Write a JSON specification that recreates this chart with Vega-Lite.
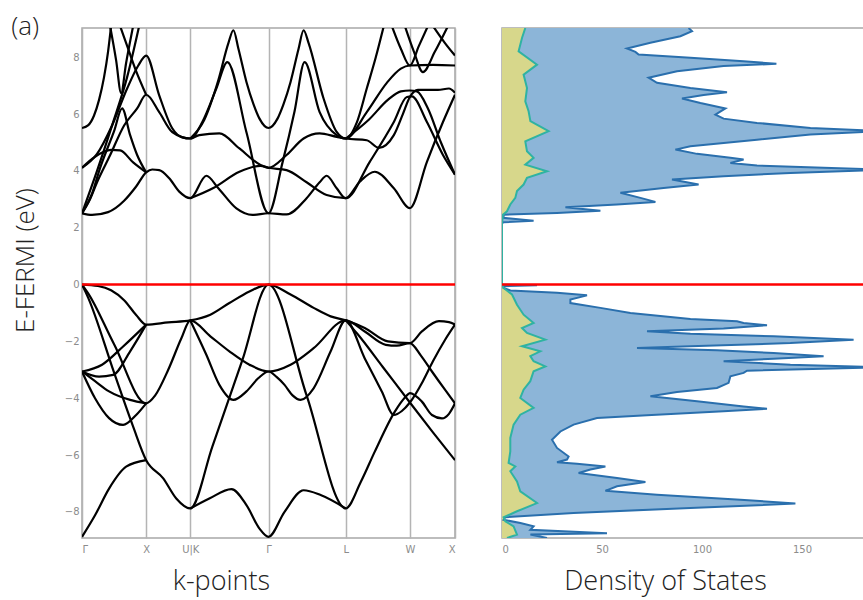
{
  "$schema": "https://vega.github.io/schema/vega-lite/v6.json",
  "padding": {"left": 11, "top": 14, "right": 0, "bottom": 4},
  "title": {"text": "(a)", "anchor": "start", "frame": "bounds", "font": "Open Sans", "fontSize": 26, "fontWeight": 300, "color": "#222222", "baseline": "middle", "offset": -26},
  "bounds": "flush",
  "spacing": 47,
  "config": {
    "view": {"stroke": "#a8a8a8", "strokeWidth": 1.5},
    "axis": {"domain": false, "ticks": false, "labelColor": "#8c8c8c", "labelFont": "DejaVu Sans", "labelFontSize": 10, "titleFont": "Open Sans", "titleFontWeight": 300, "titleColor": "#222222"}
  },
  "datasets": {
    "bands": [
      {"b":"v1","k":0,"E":0},{"b":"v1","k":16,"E":-0.05},{"b":"v1","k":29,"E":-0.2},{"b":"v1","k":42,"E":-0.55},{"b":"v1","k":54,"E":-1.07},{"b":"v1","k":64,"E":-1.41},{"b":"v1","k":86,"E":-1.33},{"b":"v1","k":108,"E":-1.26},{"b":"v1","k":128,"E":-1.06},{"b":"v1","k":147,"E":-0.65},{"b":"v1","k":167,"E":-0.24},{"b":"v1","k":186,"E":0},{"b":"v1","k":208,"E":-0.35},{"b":"v1","k":231,"E":-0.82},{"b":"v1","k":248,"E":-1.12},{"b":"v1","k":263,"E":-1.26},{"b":"v1","k":282,"E":-1.53},{"b":"v1","k":305,"E":-2.0},{"b":"v1","k":327,"E":-2.06},{"b":"v1","k":339,"E":-1.65},{"b":"v1","k":356,"E":-1.29},{"b":"v1","k":366,"E":-1.32},{"b":"v1","k":372,"E":-1.41},
      {"b":"v2","k":0,"E":0},{"b":"v2","k":6,"E":-0.3},{"b":"v2","k":32,"E":-2.1},{"b":"v2","k":64,"E":-4.18},{"b":"v2","k":73,"E":-3.9},{"b":"v2","k":86,"E":-3.0},{"b":"v2","k":99,"E":-1.9},{"b":"v2","k":108,"E":-1.26},{"b":"v2","k":128,"E":-1.82},{"b":"v2","k":147,"E":-2.35},{"b":"v2","k":167,"E":-2.82},{"b":"v2","k":186,"E":-3.06},{"b":"v2","k":208,"E":-2.82},{"b":"v2","k":231,"E":-2.24},{"b":"v2","k":263,"E":-1.26},{"b":"v2","k":282,"E":-1.65},{"b":"v2","k":303,"E":-2.12},{"b":"v2","k":314,"E":-2.15},{"b":"v2","k":327,"E":-2.06},{"b":"v2","k":338,"E":-2.5},{"b":"v2","k":349,"E":-3.06},{"b":"v2","k":362,"E":-3.7},{"b":"v2","k":372,"E":-4.18},
      {"b":"v3","k":0,"E":0},{"b":"v3","k":6,"E":-0.45},{"b":"v3","k":32,"E":-3.1},{"b":"v3","k":51,"E":-5.0},{"b":"v3","k":64,"E":-6.18},{"b":"v3","k":81,"E":-6.82},{"b":"v3","k":94,"E":-7.53},{"b":"v3","k":108,"E":-7.88},{"b":"v3","k":130,"E":-5.7},{"b":"v3","k":160,"E":-2.65},{"b":"v3","k":186,"E":0},{"b":"v3","k":224,"E":-3.9},{"b":"v3","k":263,"E":-7.88},{"b":"v3","k":278,"E":-6.95},{"b":"v3","k":292,"E":-5.88},{"b":"v3","k":312,"E":-4.47},{"b":"v3","k":323,"E":-3.94},{"b":"v3","k":327,"E":-3.82},{"b":"v3","k":339,"E":-4.12},{"b":"v3","k":349,"E":-4.59},{"b":"v3","k":359,"E":-4.71},{"b":"v3","k":366,"E":-4.55},{"b":"v3","k":372,"E":-4.18},
      {"b":"v4","k":0,"E":-3.06},{"b":"v4","k":20,"E":-2.82},{"b":"v4","k":41,"E":-2.18},{"b":"v4","k":64,"E":-1.41},
      {"b":"v5","k":0,"E":-3.06},{"b":"v5","k":17,"E":-3.24},{"b":"v5","k":31,"E":-3.18},{"b":"v5","k":48,"E":-2.35},{"b":"v5","k":64,"E":-1.41},
      {"b":"v6","k":0,"E":-3.06},{"b":"v6","k":13,"E":-3.4},{"b":"v6","k":27,"E":-3.76},{"b":"v6","k":48,"E":-4.06},{"b":"v6","k":64,"E":-4.18},
      {"b":"v7","k":0,"E":-3.06},{"b":"v7","k":13,"E":-4.0},{"b":"v7","k":27,"E":-4.7},{"b":"v7","k":41,"E":-4.94},{"b":"v7","k":54,"E":-4.59},{"b":"v7","k":64,"E":-4.18},
      {"b":"v8","k":0,"E":-8.88},{"b":"v8","k":13,"E":-8.12},{"b":"v8","k":27,"E":-7.18},{"b":"v8","k":44,"E":-6.41},{"b":"v8","k":64,"E":-6.18},
      {"b":"v9","k":108,"E":-1.26},{"b":"v9","k":124,"E":-2.47},{"b":"v9","k":137,"E":-3.53},{"b":"v9","k":151,"E":-4.06},{"b":"v9","k":164,"E":-3.76},{"b":"v9","k":176,"E":-3.29},{"b":"v9","k":186,"E":-3.06},{"b":"v9","k":194,"E":-3.25},{"b":"v9","k":202,"E":-3.53},{"b":"v9","k":210,"E":-3.9},{"b":"v9","k":218,"E":-4.06},{"b":"v9","k":231,"E":-3.65},{"b":"v9","k":248,"E":-2.35},{"b":"v9","k":263,"E":-1.26},{"b":"v9","k":282,"E":-2.6},{"b":"v9","k":299,"E":-3.76},{"b":"v9","k":311,"E":-4.59},{"b":"v9","k":319,"E":-4.45},{"b":"v9","k":327,"E":-4.15},{"b":"v9","k":340,"E":-3.4},{"b":"v9","k":350,"E":-2.7},{"b":"v9","k":362,"E":-1.95},{"b":"v9","k":372,"E":-1.41},
      {"b":"v10","k":108,"E":-7.88},{"b":"v10","k":127,"E":-7.53},{"b":"v10","k":149,"E":-7.2},{"b":"v10","k":164,"E":-7.76},{"b":"v10","k":177,"E":-8.59},{"b":"v10","k":186,"E":-8.88},{"b":"v10","k":202,"E":-8.0},{"b":"v10","k":221,"E":-7.24},{"b":"v10","k":238,"E":-7.41},{"b":"v10","k":263,"E":-7.88},
      {"b":"v11","k":263,"E":-1.26},{"b":"v11","k":275,"E":-1.75},{"b":"v11","k":300,"E":-2.9},{"b":"v11","k":327,"E":-4.15},{"b":"v11","k":350,"E":-5.2},{"b":"v11","k":372,"E":-6.18},
      {"b":"c1","k":0,"E":2.51},{"b":"c1","k":10,"E":2.45},{"b":"c1","k":26,"E":2.55},{"b":"c1","k":42,"E":2.95},{"b":"c1","k":54,"E":3.45},{"b":"c1","k":64,"E":3.95},{"b":"c1","k":70,"E":4.05},{"b":"c1","k":77,"E":4.03},{"b":"c1","k":87,"E":3.74},{"b":"c1","k":97,"E":3.27},{"b":"c1","k":108,"E":3.04},{"b":"c1","k":124,"E":3.83},{"b":"c1","k":136,"E":3.39},{"b":"c1","k":154,"E":2.68},{"b":"c1","k":170,"E":2.45},{"b":"c1","k":186,"E":2.51},{"b":"c1","k":204,"E":2.47},{"b":"c1","k":224,"E":3.04},{"b":"c1","k":237,"E":3.6},{"b":"c1","k":244,"E":3.83},{"b":"c1","k":254,"E":3.39},{"b":"c1","k":263,"E":3.04},{"b":"c1","k":277,"E":3.62},{"b":"c1","k":292,"E":3.97},{"b":"c1","k":311,"E":3.39},{"b":"c1","k":327,"E":2.69},{"b":"c1","k":344,"E":4.32},{"b":"c1","k":360,"E":5.72},{"b":"c1","k":372,"E":6.68},
      {"b":"c2","k":0,"E":2.51},{"b":"c2","k":10,"E":3.2},{"b":"c2","k":18,"E":4.1},{"b":"c2","k":32,"E":5.4},{"b":"c2","k":40,"E":6.2},{"b":"c2","k":48,"E":5.26},{"b":"c2","k":55,"E":4.56},{"b":"c2","k":64,"E":3.95},
      {"b":"c3","k":0,"E":2.51},{"b":"c3","k":8,"E":3.0},{"b":"c3","k":15,"E":3.6},{"b":"c3","k":28,"E":4.55},{"b":"c3","k":42,"E":5.6},{"b":"c3","k":55,"E":6.2},{"b":"c3","k":64,"E":6.68},{"b":"c3","k":77,"E":6.07},{"b":"c3","k":90,"E":5.37},{"b":"c3","k":108,"E":5.14},{"b":"c3","k":120,"E":5.72},{"b":"c3","k":134,"E":6.9},{"b":"c3","k":145,"E":7.83},{"b":"c3","k":164,"E":5.36},{"b":"c3","k":186,"E":2.51},{"b":"c3","k":200,"E":4.3},{"b":"c3","k":212,"E":6.1},{"b":"c3","k":222,"E":7.83},{"b":"c3","k":237,"E":6.07},{"b":"c3","k":254,"E":5.26},{"b":"c3","k":263,"E":5.14},{"b":"c3","k":284,"E":6.07},{"b":"c3","k":304,"E":7.1},{"b":"c3","k":318,"E":7.6},{"b":"c3","k":327,"E":7.71},{"b":"c3","k":350,"E":7.73},{"b":"c3","k":372,"E":7.71},
      {"b":"c4","k":0,"E":4.11},{"b":"c4","k":13,"E":4.5},{"b":"c4","k":29,"E":4.74},{"b":"c4","k":38,"E":4.72},{"b":"c4","k":51,"E":4.3},{"b":"c4","k":64,"E":3.95},
      {"b":"c5","k":0,"E":4.11},{"b":"c5","k":15,"E":4.6},{"b":"c5","k":30,"E":5.6},{"b":"c5","k":45,"E":6.9},{"b":"c5","k":56,"E":7.7},{"b":"c5","k":64,"E":8.06},{"b":"c5","k":77,"E":6.66},{"b":"c5","k":90,"E":5.5},{"b":"c5","k":100,"E":5.18},{"b":"c5","k":108,"E":5.14},{"b":"c5","k":117,"E":5.26},{"b":"c5","k":137,"E":5.32},{"b":"c5","k":157,"E":4.79},{"b":"c5","k":178,"E":4.21},{"b":"c5","k":186,"E":4.11},{"b":"c5","k":204,"E":4.56},{"b":"c5","k":221,"E":5.14},{"b":"c5","k":237,"E":5.32},{"b":"c5","k":254,"E":5.2},{"b":"c5","k":263,"E":5.14},{"b":"c5","k":284,"E":5.08},{"b":"c5","k":296,"E":4.81},{"b":"c5","k":311,"E":5.26},{"b":"c5","k":320,"E":6.0},{"b":"c5","k":327,"E":6.6},{"b":"c5","k":335,"E":6.85},{"b":"c5","k":355,"E":6.85},{"b":"c5","k":366,"E":6.9},{"b":"c5","k":372,"E":6.75},
      {"b":"c6","k":0,"E":2.51},{"b":"c6","k":15,"E":4.0},{"b":"c6","k":30,"E":5.6},{"b":"c6","k":45,"E":7.3},{"b":"c6","k":57,"E":9.1},
      {"b":"c7","k":0,"E":5.51},{"b":"c7","k":6,"E":5.6},{"b":"c7","k":12,"E":5.95},{"b":"c7","k":17,"E":6.5},{"b":"c7","k":22,"E":7.3},{"b":"c7","k":26,"E":8.2},{"b":"c7","k":29,"E":9.1},
      {"b":"c8","k":28,"E":9.1},{"b":"c8","k":34,"E":7.9},{"b":"c8","k":39,"E":6.74},{"b":"c8","k":44,"E":7.8},{"b":"c8","k":51,"E":9.1},
      {"b":"c9","k":38,"E":9.1},{"b":"c9","k":46,"E":8.3},{"b":"c9","k":53,"E":7.6},{"b":"c9","k":64,"E":6.68},
      {"b":"c10","k":108,"E":3.04},{"b":"c10","k":131,"E":3.4},{"b":"c10","k":157,"E":3.97},{"b":"c10","k":178,"E":4.18},{"b":"c10","k":186,"E":4.11},{"b":"c10","k":204,"E":4.03},{"b":"c10","k":224,"E":3.6},{"b":"c10","k":244,"E":3.15},{"b":"c10","k":263,"E":3.04},{"b":"c10","k":287,"E":4.32},{"b":"c10","k":311,"E":5.72},{"b":"c10","k":324,"E":6.6},{"b":"c10","k":329,"E":6.62},{"b":"c10","k":344,"E":5.72},{"b":"c10","k":360,"E":4.56},{"b":"c10","k":372,"E":3.87},
      {"b":"c11","k":108,"E":5.14},{"b":"c11","k":122,"E":5.8},{"b":"c11","k":136,"E":7.2},{"b":"c11","k":146,"E":8.5},{"b":"c11","k":151,"E":8.95},{"b":"c11","k":156,"E":8.3},{"b":"c11","k":164,"E":7.13},{"b":"c11","k":171,"E":6.35},{"b":"c11","k":177,"E":5.84},{"b":"c11","k":186,"E":5.51},{"b":"c11","k":195,"E":5.84},{"b":"c11","k":201,"E":6.35},{"b":"c11","k":208,"E":7.13},{"b":"c11","k":216,"E":8.3},{"b":"c11","k":221,"E":8.95},{"b":"c11","k":226,"E":8.5},{"b":"c11","k":241,"E":6.54},{"b":"c11","k":254,"E":5.37},{"b":"c11","k":263,"E":5.14},{"b":"c11","k":274,"E":5.7},{"b":"c11","k":284,"E":6.9},{"b":"c11","k":293,"E":8.0},{"b":"c11","k":301,"E":9.1},
      {"b":"c12","k":263,"E":5.14},{"b":"c12","k":286,"E":5.8},{"b":"c12","k":305,"E":6.5},{"b":"c12","k":318,"E":6.8},{"b":"c12","k":327,"E":6.83},{"b":"c12","k":334,"E":6.8},{"b":"c12","k":345,"E":6.2},{"b":"c12","k":358,"E":5.0},{"b":"c12","k":372,"E":3.87},
      {"b":"c13","k":309,"E":9.1},{"b":"c13","k":318,"E":8.3},{"b":"c13","k":327,"E":7.71},{"b":"c13","k":336,"E":8.4},{"b":"c13","k":345,"E":9.1},
      {"b":"c14","k":322,"E":9.1},{"b":"c14","k":331,"E":8.2},{"b":"c14","k":340,"E":7.48},{"b":"c14","k":352,"E":8.2},{"b":"c14","k":365,"E":9.1},
      {"b":"c15","k":350,"E":9.1},{"b":"c15","k":362,"E":8.5},{"b":"c15","k":372,"E":8.06}
    ],
    "dosTotal": [
      {"E":9.03,"d":93.3},{"E":8.92,"d":95.0},{"E":8.74,"d":89.2},{"E":8.51,"d":74.2},{"E":8.31,"d":62.5},{"E":8.19,"d":66.7},{"E":8.1,"d":68.3},{"E":7.98,"d":94.2},{"E":7.86,"d":120.8},{"E":7.77,"d":137.2},{"E":7.69,"d":110.8},{"E":7.51,"d":87.5},{"E":7.28,"d":73.3},{"E":7.1,"d":77.5},{"E":6.92,"d":94.2},{"E":6.77,"d":112.5},{"E":6.67,"d":100.8},{"E":6.55,"d":90.0},{"E":6.39,"d":99.2},{"E":6.2,"d":111.7},{"E":5.98,"d":106.7},{"E":5.84,"d":110.8},{"E":5.69,"d":127.5},{"E":5.51,"d":154.2},{"E":5.4,"d":190.8},{"E":5.28,"d":154.2},{"E":5.1,"d":127.5},{"E":4.87,"d":94.2},{"E":4.75,"d":86.7},{"E":4.6,"d":97.5},{"E":4.46,"d":114.2},{"E":4.4,"d":120.8},{"E":4.28,"d":114.2},{"E":4.19,"d":127.5},{"E":4.11,"d":160.8},{"E":4.04,"d":190.8},{"E":3.93,"d":144.2},{"E":3.81,"d":110.8},{"E":3.7,"d":85.0},{"E":3.52,"d":98.3},{"E":3.4,"d":80.8},{"E":3.23,"d":59.2},{"E":3.05,"d":69.2},{"E":2.91,"d":76.7},{"E":2.82,"d":57.5},{"E":2.72,"d":31.7},{"E":2.6,"d":49.2},{"E":2.52,"d":27.5},{"E":2.46,"d":0.8},{"E":2.35,"d":0.8},{"E":2.25,"d":15.8},{"E":2.19,"d":0.8},{"E":2.16,"d":0},
      {"E":0.0,"d":0},{"E":-0.02,"d":17.5},{"E":-0.06,"d":0.8},{"E":-0.12,"d":0.8},{"E":-0.21,"d":4.2},{"E":-0.29,"d":27.5},{"E":-0.38,"d":42.5},{"E":-0.53,"d":34.2},{"E":-0.65,"d":34.2},{"E":-0.82,"d":49.2},{"E":-1.0,"d":64.2},{"E":-1.21,"d":94.2},{"E":-1.29,"d":117.5},{"E":-1.35,"d":120.8},{"E":-1.43,"d":132.5},{"E":-1.55,"d":110.8},{"E":-1.64,"d":72.5},{"E":-1.73,"d":94.2},{"E":-1.82,"d":135.8},{"E":-1.94,"d":175.8},{"E":-2.06,"d":144.2},{"E":-2.17,"d":94.2},{"E":-2.23,"d":67.5},{"E":-2.31,"d":107.5},{"E":-2.41,"d":135.8},{"E":-2.52,"d":160.8},{"E":-2.61,"d":135.8},{"E":-2.7,"d":110.8},{"E":-2.82,"d":144.2},{"E":-2.91,"d":190.8},{"E":-3.03,"d":122.5},{"E":-3.11,"d":120.8},{"E":-3.23,"d":114.2},{"E":-3.46,"d":113.3},{"E":-3.64,"d":107.5},{"E":-3.78,"d":87.5},{"E":-3.93,"d":74.2},{"E":-4.11,"d":97.5},{"E":-4.29,"d":120.8},{"E":-4.37,"d":132.5},{"E":-4.46,"d":110.8},{"E":-4.6,"d":72.5},{"E":-4.7,"d":47.5},{"E":-4.93,"d":35.8},{"E":-5.17,"d":29.2},{"E":-5.46,"d":25.0},{"E":-5.75,"d":27.5},{"E":-6.05,"d":33.3},{"E":-6.16,"d":32.5},{"E":-6.25,"d":27.5},{"E":-6.31,"d":37.5},{"E":-6.4,"d":51.7},{"E":-6.51,"d":44.2},{"E":-6.63,"d":38.3},{"E":-6.81,"d":57.5},{"E":-6.95,"d":71.7},{"E":-7.1,"d":57.5},{"E":-7.26,"d":51.7},{"E":-7.4,"d":77.5},{"E":-7.57,"d":119.2},{"E":-7.71,"d":146.7},{"E":-7.86,"d":94.2},{"E":-8.04,"d":35.8},{"E":-8.19,"d":1.65},{"E":-8.28,"d":0.8},{"E":-8.39,"d":9.2},{"E":-8.51,"d":15.8},{"E":-8.63,"d":14.2},{"E":-8.75,"d":52.5},{"E":-8.8,"d":14.2},{"E":-8.92,"d":22.5}
    ],
    "dosPart": [
      {"E":9.03,"d":11.65},{"E":8.68,"d":10.0},{"E":8.21,"d":8.3},{"E":7.74,"d":17.5},{"E":7.39,"d":10.8},{"E":6.92,"d":12.5},{"E":6.45,"d":11.65},{"E":6.1,"d":13.3},{"E":5.75,"d":14.2},{"E":5.4,"d":23.3},{"E":5.04,"d":11.65},{"E":4.69,"d":12.5},{"E":4.46,"d":15.8},{"E":4.22,"d":11.65},{"E":3.99,"d":22.5},{"E":3.76,"d":12.5},{"E":3.52,"d":10.8},{"E":3.29,"d":7.5},{"E":3.05,"d":6.65},{"E":2.82,"d":4.15},{"E":2.58,"d":2.5},{"E":2.46,"d":0.5},{"E":2.16,"d":0},
      {"E":0.0,"d":0},{"E":-0.12,"d":0.8},{"E":-0.35,"d":5.0},{"E":-0.71,"d":7.5},{"E":-1.06,"d":10.8},{"E":-1.35,"d":15.8},{"E":-1.53,"d":10.0},{"E":-1.7,"d":12.5},{"E":-1.94,"d":21.65},{"E":-2.17,"d":10.0},{"E":-2.35,"d":19.15},{"E":-2.52,"d":14.15},{"E":-2.7,"d":15.8},{"E":-2.88,"d":21.65},{"E":-3.05,"d":15.8},{"E":-3.4,"d":14.15},{"E":-3.7,"d":10.8},{"E":-3.99,"d":9.15},{"E":-4.34,"d":15.8},{"E":-4.58,"d":9.15},{"E":-4.93,"d":5.8},{"E":-5.4,"d":4.15},{"E":-5.87,"d":4.15},{"E":-6.28,"d":3.3},{"E":-6.4,"d":6.65},{"E":-6.57,"d":4.15},{"E":-6.93,"d":7.5},{"E":-7.28,"d":9.15},{"E":-7.69,"d":17.5},{"E":-7.98,"d":7.5},{"E":-8.19,"d":0.8},{"E":-8.33,"d":1.65},{"E":-8.51,"d":5.8},{"E":-8.8,"d":7.5},{"E":-8.92,"d":2.5}
    ],
    "fermi": [{"E": 0}]
  },
  "hconcat": [
    {
      "width": 373,
      "height": 510,
      "layer": [
        {
          "data": {"name": "bands"},
          "mark": {"type": "line", "color": "#000000", "strokeWidth": 2.2, "interpolate": "monotone", "clip": true},
          "encoding": {
            "x": {"field": "k", "type": "quantitative",
                  "scale": {"domain": [0, 372], "nice": false, "zero": false},
                  "axis": {"values": [0, 64, 108, 186, 263, 327, 372], "grid": true, "gridColor": "#b4b4b4", "gridWidth": 1.5,
                           "labelExpr": "datum.value == 0 || datum.value == 186 ? 'Γ' : (datum.value == 64 || datum.value == 372 ? 'X' : (datum.value == 108 ? 'U|K' : (datum.value == 263 ? 'L' : 'W')))",
                           "labelPadding": 6, "title": "k-points", "titleFontSize": 27, "titleX": 139, "titleY": 51, "titleBaseline": "alphabetic"}},
            "y": {"field": "E", "type": "quantitative",
                  "scale": {"domain": [-8.92, 9.03], "nice": false, "zero": false},
                  "axis": {"values": [-8, -6, -4, -2, 0, 2, 4, 6, 8], "grid": false, "labelPadding": 3,
                           "title": "E-FERMI (eV)", "titleFontSize": 26, "titleX": -49, "titleY": 232, "titleBaseline": "alphabetic"}},
            "detail": {"field": "b", "type": "nominal"}
          }
        },
        {
          "data": {"name": "fermi"},
          "mark": {"type": "rule", "color": "#ff0000", "strokeWidth": 2.5},
          "encoding": {"y": {"field": "E", "type": "quantitative"}}
        }
      ]
    },
    {
      "width": 362,
      "height": 510,
      "encoding": {
        "x": {"field": "d", "type": "quantitative",
              "scale": {"domain": [0, 181], "nice": false, "zero": false},
              "axis": {"values": [0, 50, 100, 150], "grid": false, "labelPadding": 6,
                       "title": "Density of States", "titleFontSize": 27, "titleX": 163, "titleY": 51, "titleBaseline": "alphabetic"}},
        "y": {"field": "E", "type": "quantitative",
              "scale": {"domain": [-8.92, 9.03], "nice": false, "zero": false},
              "axis": null}
      },
      "layer": [
        {"data": {"name": "dosTotal"}, "mark": {"type": "area", "orient": "horizontal", "color": "#8cb5d8", "opacity": 1, "clip": true}},
        {"data": {"name": "dosPart"}, "mark": {"type": "area", "orient": "horizontal", "color": "#d7d78b", "opacity": 1, "clip": true}},
        {"data": {"name": "dosTotal"}, "mark": {"type": "line", "orient": "horizontal", "color": "#2a6fad", "strokeWidth": 2, "clip": true},
         "encoding": {"order": {"field": "E", "type": "quantitative"}}},
        {"data": {"name": "dosPart"}, "mark": {"type": "line", "orient": "horizontal", "color": "#2fb3a2", "strokeWidth": 2, "clip": true},
         "encoding": {"order": {"field": "E", "type": "quantitative"}}},
        {"data": {"name": "fermi"}, "mark": {"type": "rule", "color": "#ff0000", "strokeWidth": 2.5},
         "encoding": {"x": null, "y": {"field": "E", "type": "quantitative"}}}
      ]
    }
  ]
}
